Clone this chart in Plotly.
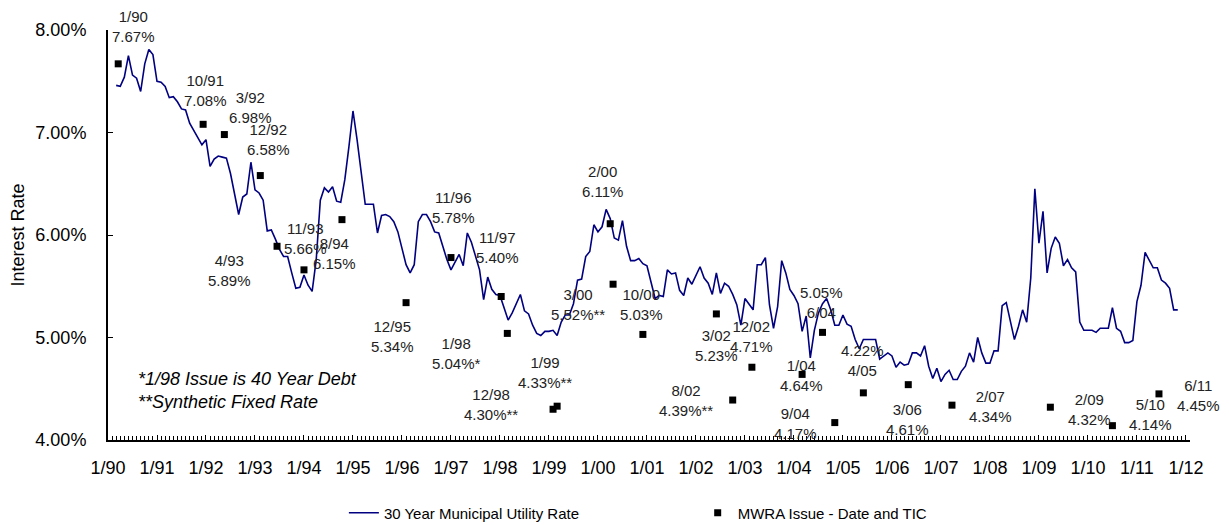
import plotly.graph_objects as go

# 30 year municipal utility rate, monthly from 1/90 (index 0 = Jan 1990)
rate_9093 = [7.46, 7.45, 7.54, 7.75, 7.56, 7.53, 7.40, 7.67, 7.81, 7.76, 7.50, 7.49,
             7.45, 7.34, 7.35, 7.30, 7.23, 7.22, 7.09, 7.02, 6.94, 6.88, 6.93, 6.67,
             6.74, 6.77, 6.76, 6.75, 6.60, 6.41, 6.20, 6.37, 6.40, 6.71, 6.44, 6.41,
             6.34, 6.04, 6.05, 5.96, 5.86, 5.79, 5.79, 5.63, 5.48, 5.49, 5.61, 5.51]
rate_9497 = [5.45, 5.76, 6.34, 6.46, 6.42, 6.47, 6.33, 6.32, 6.54, 6.86, 7.21, 6.93,
             6.60, 6.30, 6.30, 6.30, 6.02, 6.19, 6.20, 6.18, 6.13, 6.03, 5.87, 5.71,
             5.63, 5.71, 6.13, 6.20, 6.20, 6.13, 6.03, 6.02, 5.89, 5.76, 5.66, 5.74,
             5.81, 5.70, 6.02, 5.93, 5.80, 5.66, 5.37, 5.59, 5.47, 5.42, 5.41, 5.28]
rate_9801 = [5.17, 5.24, 5.33, 5.42, 5.26, 5.23, 5.12, 5.04, 5.02, 5.06, 5.06, 5.07,
             5.02, 5.15, 5.22, 5.22, 5.33, 5.56, 5.57, 5.79, 5.84, 6.10, 6.03, 6.08,
             6.25, 6.16, 5.97, 5.95, 6.14, 5.89, 5.75, 5.75, 5.77, 5.72, 5.70, 5.54,
             5.38, 5.41, 5.40, 5.66, 5.62, 5.63, 5.46, 5.41, 5.58, 5.52, 5.61, 5.69]
rate_0205 = [5.58, 5.53, 5.42, 5.63, 5.43, 5.53, 5.50, 5.42, 5.32, 5.12, 5.38, 5.32,
             5.27, 5.71, 5.71, 5.78, 5.32, 5.09, 5.30, 5.75, 5.63, 5.47, 5.41, 5.33,
             5.06, 5.21, 4.80, 5.07, 5.24, 5.33, 5.38, 5.27, 5.12, 5.12, 5.22, 5.13,
             5.11, 4.98, 4.89, 4.98, 4.98, 4.98, 4.98, 4.79, 4.82, 4.85, 4.82, 4.71]
rate_0609 = [4.76, 4.73, 4.74, 4.85, 4.85, 4.82, 4.92, 4.72, 4.60, 4.70, 4.57, 4.64,
             4.68, 4.59, 4.59, 4.67, 4.72, 4.85, 4.76, 5.00, 4.85, 4.75, 4.75, 4.87,
             4.87, 5.31, 5.34, 5.15, 4.98, 5.11, 5.27, 5.15, 5.58, 6.45, 5.92, 6.23,
             5.63, 5.87, 5.98, 5.92, 5.70, 5.76, 5.68, 5.64, 5.15, 5.07, 5.07, 5.07]
rate_1011 = [5.05, 5.09, 5.09, 5.09, 5.29, 5.09, 5.06, 4.95, 4.95, 4.97, 5.35, 5.51,
             5.83, 5.76, 5.68, 5.68, 5.56, 5.53, 5.48, 5.27, 5.27]

rate = rate_9093 + rate_9497 + rate_9801 + rate_0205 + rate_0609 + rate_1011
months = list(range(len(rate)))

# MWRA issues: date, TIC label, month position and rate as plotted
issue_dates = ["1/90", "10/91", "3/92", "12/92", "4/93", "11/93", "8/94", "12/95",
               "11/96", "11/97", "1/98", "12/98", "1/99", "2/00", "3/00", "10/00",
               "3/02", "8/02", "12/02", "1/04", "6/04", "9/04", "4/05", "3/06",
               "2/07", "2/09", "5/10", "6/11"]
issue_tic = ["7.67%", "7.08%", "6.98%", "6.58%", "5.89%", "5.66%", "6.15%", "5.34%",
             "5.78%", "5.40%", "5.04%*", "4.30%**", "4.33%**", "6.11%", "5.52%**", "5.03%",
             "5.23%", "4.39%**", "4.71%", "4.64%", "5.05%", "4.17%", "4.22%", "4.61%",
             "4.34%", "4.32%", "4.14%", "4.45%"]
issue_month = [0.5, 21.3, 26.5, 35.3, 39.4, 46, 55.3, 71,
               82, 94.3, 95.8, 107, 108, 121, 121.7, 129,
               147, 151, 155.7, 168, 173, 176, 183, 194,
               204.7, 228.8, 244, 255.4]
issue_rate = [7.67, 7.08, 6.98, 6.58, 5.89, 5.66, 6.15, 5.34,
              5.78, 5.40, 5.04, 4.30, 4.33, 6.11, 5.52, 5.03,
              5.23, 4.39, 4.71, 4.64, 5.05, 4.17, 4.46, 4.54,
              4.34, 4.32, 4.14, 4.45]
value_first = ["6/04", "4/05"]

# label offsets from the marker, in pixels (right, down)
label_dx = [15, 2, 26, 8, -48, 2, -7, -14, 3, -4, -51, -62, -12, -8, -35, -1,
            0, -47, 0, -1, -1, -39, -1, -1, 39, 39, 38, 40]
label_dy = [-37, -34, -27, -36, 24, -31, 34, 34, -50, -49, 20, -5, -34, -42, 20, -30,
            32, 0, -31, 1, -30, 1, -32, 35, 1, 2, -11, 2]

year_labels = ["1/%02d" % (y % 100) for y in range(1990, 2013)]

font = "Liberation Sans, Arial, sans-serif"

fig = go.Figure()
fig.add_trace(go.Scatter(
    x=months, y=rate, mode="lines", name="30 Year Municipal Utility Rate",
    line=dict(color="#000080", width=1.6), legend="legend",
))
fig.add_trace(go.Scatter(
    x=issue_month, y=issue_rate, mode="markers", name="MWRA Issue - Date and TIC",
    marker=dict(symbol="square", size=7, color="black"), legend="legend2",
))

for d, t, x, y, dx, dy in zip(issue_dates, issue_tic, issue_month, issue_rate, label_dx, label_dy):
    text = f"{t}<br>{d}" if d in value_first else f"{d}<br>{t}"
    fig.add_annotation(x=x, y=y, text=text, showarrow=False, xshift=dx, yshift=-dy,
                       font=dict(size=15, color="#222222", family=font))

fig.add_annotation(
    xref="paper", yref="paper", x=0.026, y=0.12, xanchor="left", yanchor="middle",
    text="<i>*1/98 Issue is 40 Year Debt</i><br><i>**Synthetic Fixed Rate</i>",
    align="left", showarrow=False, font=dict(size=18, color="black", family=font),
)

# page body adds 8px, so the figure is 8px smaller and margins shifted
fig.update_layout(
    width=1221, height=517,
    margin=dict(l=100, r=39, t=22, b=85, autoexpand=False),
    plot_bgcolor="white", paper_bgcolor="white",
    font=dict(family=font, color="black"),
    showlegend=True,
    legend=dict(orientation="h", x=0.218, y=-0.178, xanchor="left", yanchor="middle",
                font=dict(size=15)),
    legend2=dict(orientation="h", x=0.545, y=-0.178, xanchor="left", yanchor="middle",
                 font=dict(size=15)),
)
fig.update_xaxes(
    range=[-2, 263], tickvals=[12 * k - 2 for k in range(len(year_labels))],
    ticktext=year_labels, showline=True, linecolor="black", linewidth=2,
    ticks="inside", ticklen=5, tickcolor="black", showgrid=False, zeroline=False,
    tickfont=dict(size=18), ticklabelstandoff=10,
    minor=dict(dtick=1, tick0=-2, ticks="inside", ticklen=4, tickcolor="black"),
)
fig.update_yaxes(
    range=[4, 8], tickvals=[4, 5, 6, 7, 8],
    ticktext=["4.00%", "5.00%", "6.00%", "7.00%", "8.00%"],
    showline=True, linecolor="black", linewidth=2, ticks="inside", ticklen=5,
    tickcolor="black", showgrid=False, zeroline=False, tickfont=dict(size=18),
    ticklabelstandoff=16,
    title=dict(text="Interest Rate", font=dict(size=18), standoff=6),
)

fig.write_html("out.html")
